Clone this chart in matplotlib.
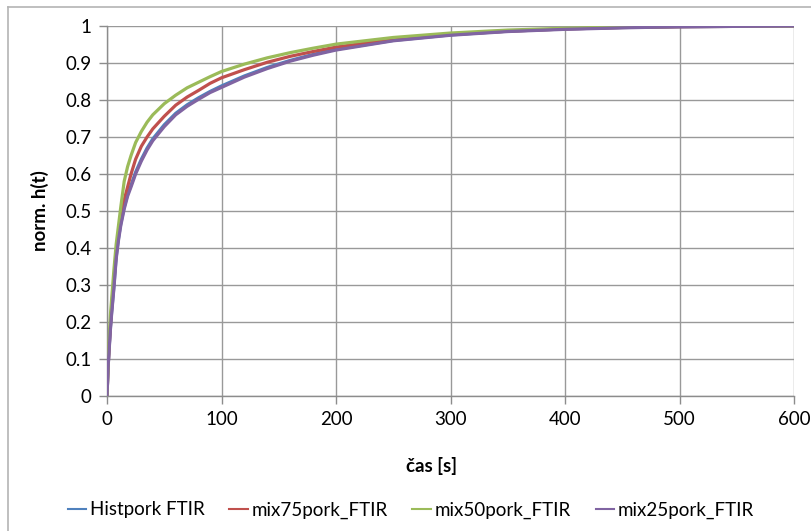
import matplotlib
matplotlib.use("Agg")
import matplotlib.pyplot as plt
from matplotlib.lines import Line2D

plt.rcParams['font.family'] = ['Lato', 'DejaVu Sans']

# time axis [s]
t = [0, 1, 2, 3, 4, 5, 6, 8, 10, 12, 15, 18, 21, 25, 30, 35, 40, 50, 60, 70,
     80, 90, 100, 120, 140, 160, 180, 200, 250, 300, 350, 400, 450, 500, 550, 600]

histpork = [0, 0.08, 0.135, 0.185, 0.225, 0.26, 0.295, 0.375, 0.425, 0.465, 0.51,
            0.545, 0.57, 0.605, 0.64, 0.67, 0.695, 0.733, 0.764, 0.787, 0.806,
            0.823, 0.838, 0.865, 0.888, 0.907, 0.923, 0.937, 0.961, 0.976, 0.986,
            0.992, 0.996, 0.998, 0.999, 1.0]
mix75 = [0, 0.08, 0.14, 0.19, 0.235, 0.275, 0.31, 0.385, 0.435, 0.475, 0.53,
         0.565, 0.6, 0.64, 0.675, 0.70, 0.722, 0.756, 0.786, 0.808, 0.826,
         0.845, 0.860, 0.882, 0.902, 0.918, 0.931, 0.943, 0.964, 0.977, 0.986,
         0.992, 0.996, 0.998, 0.999, 1.0]
mix50 = [0, 0.09, 0.16, 0.22, 0.26, 0.30, 0.34, 0.41, 0.46, 0.51, 0.58,
         0.62, 0.65, 0.685, 0.715, 0.74, 0.76, 0.79, 0.813, 0.833, 0.848,
         0.863, 0.877, 0.897, 0.914, 0.928, 0.94, 0.951, 0.969, 0.981, 0.989,
         0.994, 0.997, 0.999, 1.0, 1.0]
mix25 = [0, 0.08, 0.13, 0.18, 0.22, 0.255, 0.29, 0.37, 0.42, 0.46, 0.505,
         0.54, 0.565, 0.60, 0.635, 0.665, 0.69, 0.728, 0.76, 0.783, 0.802,
         0.82, 0.834, 0.862, 0.885, 0.905, 0.921, 0.935, 0.96, 0.975, 0.985,
         0.991, 0.995, 0.998, 0.999, 1.0]

series = [
    ("Histpork FTIR", histpork, "#4F81BD"),
    ("mix75pork_FTIR", mix75, "#C0504D"),
    ("mix50pork_FTIR", mix50, "#9BBB59"),
    ("mix25pork_FTIR", mix25, "#8064A2"),
]

xticks = [0, 100, 200, 300, 400, 500, 600]
yticks = [0, 0.1, 0.2, 0.3, 0.4, 0.5, 0.6, 0.7, 0.8, 0.9, 1.0]
ytick_labels = ["0", "0.1", "0.2", "0.3", "0.4", "0.5", "0.6", "0.7", "0.8", "0.9", "1"]

fig = plt.figure(figsize=(8.12, 5.31), dpi=100)
ax = fig.add_axes([107 / 812, 1 - 396 / 531, 687 / 812, 370 / 531])

for name, vals, col in series:
    ax.plot(t, vals, color=col, lw=2.3, label=name, solid_capstyle='butt', zorder=3)

ax.set_xlim(0, 600)
ax.set_ylim(0, 1)
ax.set_xticks(xticks)
ax.set_yticks(yticks)
ax.set_yticklabels(ytick_labels)
ax.grid(True, color="#999999", lw=1.0, zorder=0)
ax.set_axisbelow(True)
for s in ["top", "right"]:
    ax.spines[s].set_visible(False)
for s in ["left", "bottom"]:
    ax.spines[s].set_color("#8C8C8C")
    ax.spines[s].set_linewidth(1.0)
ax.tick_params(axis='both', direction='out', length=6, width=1.0, color="#8C8C8C",
               labelsize=13.5, labelcolor="black", pad=5)

fig.text(432 / 812, 1 - 466 / 531, "čas [s]", ha='center', va='center',
         fontsize=13.5, fontweight='bold')
fig.text(40 / 812, 1 - 211 / 531, "norm. h(t)", ha='center', va='center',
         rotation=90, fontsize=13.5, fontweight='bold')

handles = [Line2D([0], [0], color=c, lw=1.5) for _, _, c in series]
fig.legend(handles, [n for n, _, _ in series], loc='center',
           bbox_to_anchor=(411 / 812, 1 - 510 / 531), ncol=4, frameon=False,
           fontsize=13.5, handlelength=1.0, handletextpad=0.2, columnspacing=1.3)

# light chart-area border
fig.add_artist(Line2D([8 / 812, 8 / 812], [0, 1 - 7 / 531], color="#B4B4B4", lw=1.2,
                      transform=fig.transFigure))
fig.add_artist(Line2D([8 / 812, 1], [1 - 7 / 531, 1 - 7 / 531], color="#B4B4B4", lw=1.2,
                      transform=fig.transFigure))

fig.savefig("out.png", dpi=100, facecolor="white")
